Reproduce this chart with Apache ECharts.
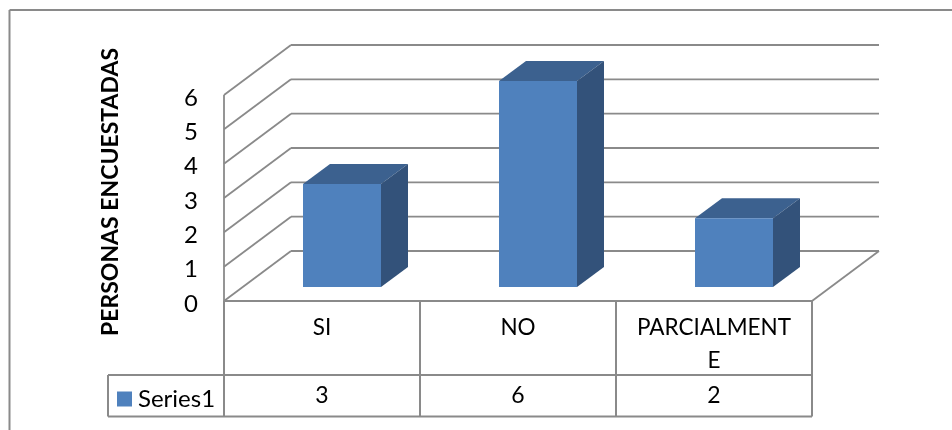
<!DOCTYPE html>
<html><head><meta charset="utf-8">
<style>html,body{margin:0;padding:0;background:#fff}#c{width:952px;height:430px}</style>
<script src="https://cdn.jsdelivr.net/npm/echarts@6/dist/echarts.min.js"></script>
</head><body><div id="c"></div>
<script>
const categories = ['SI', 'NO', 'PARCIALMENT\nE'];
const seriesValues = [3, 6, 2];
const seriesName = 'Series1';
const yTicks = [0, 1, 2, 3, 4, 5, 6];
const axisTitle = 'PERSONAS ENCUESTADAS';

const FONT = 'Lato, Carlito, "Open Sans", sans-serif';
const LINE = '#8a8a8a';
const DEPTH_X = 67, DEPTH_Y = 50;      // floor depth of the 3D box
const BAR_W = 78, BAR_DX = 27, BAR_DY = 20;
const TABLE_MID = 375, TABLE_BOT = 416.5, TABLE_LEFT = 108;
const FRONT = '#4f81bd', TOP = '#3c618f', SIDE = '#33527a';

const chart = echarts.init(document.getElementById('c'), null, {renderer: 'canvas'});
const ln = (x1, y1, x2, y2, w) => ({type: 'line', shape: {x1, y1, x2, y2},
  style: {stroke: LINE, lineWidth: w || 1.8, fill: null}});

chart.setOption({
  animation: false,
  backgroundColor: '#fff',
  grid: {left: 224, width: 588, top: 95, height: 206, containLabel: false},
  legend: {
    left: 117, top: 387, padding: 0, itemWidth: 15, itemHeight: 15, itemGap: 0, icon: 'rect',
    data: [{name: seriesName}], selectedMode: false,
    textStyle: {fontFamily: FONT, fontSize: 24, lineHeight: 15, color: '#000', padding: [0, 0, 6, 1]}
  },
  xAxis: {
    type: 'category', data: categories,
    axisLine: {show: false}, axisTick: {show: false}, splitLine: {show: false},
    axisLabel: {
      interval: 0, margin: 10, fontFamily: FONT, fontSize: 22.5, lineHeight: 33, color: '#000',
      verticalAlign: 'top'
    }
  },
  yAxis: {
    type: 'value', min: 0, max: 6, interval: 1,
    axisLine: {show: false}, axisTick: {show: false}, splitLine: {show: false},
    axisLabel: {margin: 26, fontFamily: FONT, fontSize: 24, lineHeight: 6, verticalAlign: 'top', color: '#000'}
  },
  graphic: [
    {type: 'line', shape: {x1: 9.5, y1: 430, x2: 9.5, y2: 10}, style: {stroke: LINE, lineWidth: 2}},
    {type: 'line', shape: {x1: 9.5, y1: 10, x2: 952, y2: 10}, style: {stroke: LINE, lineWidth: 2}},
    {type: 'text', x: 111, y: 192, rotation: Math.PI / 2, originX: 0, originY: 0,
     style: {text: axisTitle, fontFamily: FONT, fontSize: 23, fontWeight: 'bold', fill: '#000',
             align: 'center', verticalAlign: 'middle'}}
  ],
  series: [
    {
      // Walls, floor and gridlines: one item per y tick
      type: 'custom', name: 'walls', silent: true, z: 1, legendHoverLink: false,
      data: yTicks.map(v => [v]),
      encode: {y: 0},
      renderItem(params, api) {
        const v = api.value(0);
        const p = api.coord([0, v]);
        const band = api.size([1, 0])[0];
        const xl = p[0] - band / 2, xr = xl + band * categories.length, y = p[1];
        const children = [
          ln(xl, y, xl + DEPTH_X, y - DEPTH_Y),
          ln(xl + DEPTH_X, y - DEPTH_Y, xr + DEPTH_X, y - DEPTH_Y)
        ];
        if (v === 0) {
          children.push(ln(xr, y, xr + DEPTH_X, y - DEPTH_Y));
          const top = api.coord([0, 6])[1];
          children.push(ln(xl, y, xl, top));
        }
        return {type: 'group', children};
      }
    },
    {
      // Data table rules, built around the category bands
      type: 'custom', name: 'table', silent: true, z: 2, legendHoverLink: false,
      data: categories.map((c, i) => [i]),
      encode: {x: 0},
      renderItem(params, api) {
        const i = api.value(0);
        const p = api.coord([i, 0]);
        const band = api.size([1, 0])[0];
        const l = p[0] - band / 2, r = l + band, y0 = p[1];
        const children = [
          ln(l, y0, r, y0, 2),
          ln(l, TABLE_MID, r, TABLE_MID, 2),
          ln(l, TABLE_BOT, r, TABLE_BOT, 2),
          ln(r, y0, r, TABLE_BOT, 2)
        ];
        if (i === 0) {
          children.push(ln(l, y0, l, TABLE_BOT, 2));
          children.push(ln(TABLE_LEFT, TABLE_MID, l, TABLE_MID, 2));
          children.push(ln(TABLE_LEFT, TABLE_BOT, l, TABLE_BOT, 2));
          children.push(ln(TABLE_LEFT, TABLE_MID, TABLE_LEFT, TABLE_BOT, 2));
        }
        return {type: 'group', children};
      }
    },
    {
      type: 'custom', name: seriesName, z: 3,
      itemStyle: {color: FRONT},
      data: seriesValues.map((v, i) => [i, v]),
      encode: {x: 0, y: 1},
      renderItem(params, api) {
        const i = api.value(0), v = api.value(1);
        const base = api.coord([i, 0]), top = api.coord([i, v]);
        const ox = (DEPTH_X - BAR_DX) / 2, oy = 14;
        const l = base[0] - BAR_W / 2 + ox, r = l + BAR_W;
        const b = base[1] - oy, t = top[1] - oy;
        const poly = (points, fill) => ({type: 'polygon', shape: {points}, style: {fill}});
        return {type: 'group', children: [
          poly([[l, t], [r, t], [r + BAR_DX, t - BAR_DY], [l + BAR_DX, t - BAR_DY]], TOP),
          poly([[r, t], [r + BAR_DX, t - BAR_DY], [r + BAR_DX, b - BAR_DY], [r, b]], SIDE),
          {type: 'rect', shape: {x: l, y: t, width: BAR_W, height: b - t}, style: {fill: FRONT}},
          {type: 'text', x: base[0], y: 396,
           style: {text: String(v), fontFamily: FONT, fontSize: 23, fill: '#000',
                   align: 'center', verticalAlign: 'middle'}}
        ]};
      }
    }
  ]
});
</script></body></html>
